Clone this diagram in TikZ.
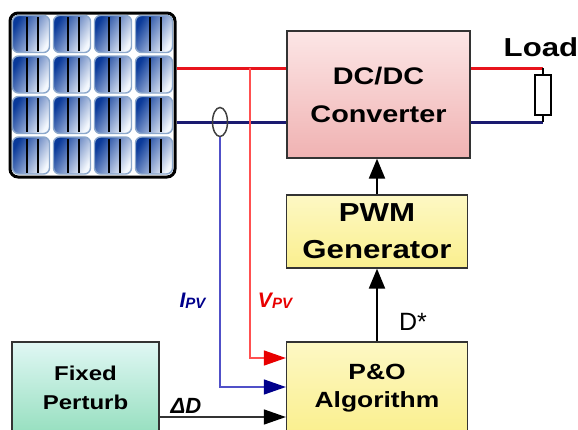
\documentclass[tikz,border=0pt]{standalone}
\usepackage{fontspec}
\setmainfont{Liberation Sans}
\newfontfamily\boxfont[FakeStretch=1.2]{Liberation Sans}
\usetikzlibrary{arrows.meta,shapes.geometric}
\definecolor{wirered}{HTML}{E8141C}
\definecolor{wirenavy}{HTML}{1A1A70}
\definecolor{tapred}{HTML}{FF5050}
\definecolor{tapblue}{HTML}{5050C8}
\definecolor{headred}{HTML}{E80000}
\definecolor{headnavy}{HTML}{00008B}
\definecolor{boxline}{HTML}{333333}
\definecolor{celldark}{HTML}{0A3A9A}
\definecolor{cellmid}{HTML}{9AB6E6}
\definecolor{celllight}{HTML}{F4F8FD}
\definecolor{cellrim}{HTML}{8CA8CC}
\definecolor{pinkdark}{HTML}{F0B2B2}
\definecolor{pinklight}{HTML}{FCE6E6}
\definecolor{yellowdark}{HTML}{FAEF8E}
\definecolor{yellowlight}{HTML}{FDF8C4}
\definecolor{mintdark}{HTML}{96DFBF}
\definecolor{mintlight}{HTML}{E0F7F4}
\begin{document}
\begin{tikzpicture}[x=1pt,y=-1pt,
  block/.style={draw=boxline,line width=1.3pt,align=center,inner sep=0pt,shading angle=315},
  wire/.style={line width=3pt},
  tap/.style={line width=1.4pt},
  intip/.style={-{Triangle[length=22pt,width=15pt,color=#1]}},
  uptip/.style={line width=2.2pt,-{Triangle[length=20pt,width=16pt]}},
  sublabel/.style={font=\bfseries\itshape\fontsize{21}{21}\selectfont}]
\useasboundingbox (0,0) rectangle (578,429);
\clip (0,0) rectangle (578,429);

% PV panel
\node[draw,line width=3pt,rounded corners=8pt,fill=white,
  minimum width=165pt,minimum height=164pt] (panel) at (92.5,95) {};
\foreach \i in {0,...,3}
 \foreach \j in {0,...,3} {
  \draw[cellrim,line width=1.4pt,rounded corners=6pt,top color=celldark,middle color=cellmid,bottom color=celllight,shading angle=60]
   (12.5+41*\i,15.5+40.5*\j) rectangle +(37,37);
  \draw[line width=1.5pt] (27+41*\i,17+40.5*\j) -- +(0,34);
  \draw[line width=1.5pt] (38+41*\i,17+40.5*\j) -- +(0,34);
 }

% blocks
\node[block,top color=pinklight,bottom color=pinkdark,minimum width=183pt,minimum height=127pt,
  font=\boxfont\bfseries\fontsize{24}{38}\selectfont] (conv) at (378.5,94.5) {DC/DC\\Converter};
\node[block,top color=yellowlight,bottom color=yellowdark,minimum width=181pt,minimum height=73pt,
  font=\boxfont\bfseries\fontsize{26}{37}\selectfont] (pwm) at (377,231.5) {PWM\\Generator};
\node[block,top color=yellowlight,bottom color=yellowdark,minimum width=181pt,minimum height=92pt,
  font=\boxfont\bfseries\fontsize{22}{28}\selectfont] (pando) at (377,388) {P\&O\\Algorithm};
\node[block,top color=mintlight,bottom color=mintdark,minimum width=147pt,minimum height=92pt,
  font=\boxfont\bfseries\fontsize{20}{29}\selectfont] (fixed) at (85.5,388) {Fixed\\Perturb};
\node[draw,line width=1.2pt,fill=white,minimum width=16pt,minimum height=40pt,inner sep=0pt] (load) at (543,95) {};

\coordinate (pos) at (0,68);
\coordinate (neg) at (0,122);
\coordinate (vtap) at (250,68);
\coordinate (vin) at (0,358);
\coordinate (iin) at (0,387);
\coordinate (din) at (0,417);

% power wires
\draw[wire,wirered] (panel.east |- pos) -- (conv.west |- pos);
\draw[wire,wirenavy] (panel.east |- neg) -- (conv.west |- neg);
\draw[wire,wirered] (conv.east |- pos) -- (load.north |- pos);
\draw[wire,wirenavy] (conv.east |- neg) -- (load.south |- neg);
\draw[line width=1.2pt] (load.north |- pos) -- (load.north);
\draw[line width=1.2pt] (load.south |- neg) -- (load.south);
\node[ellipse,draw=black!75,line width=1.5pt,minimum width=15pt,minimum height=29pt,inner sep=0pt] (sensor) at (220,122) {};

% measurements
\draw[tap,tapred,intip=headred] (vtap) |- (pando.west |- vin);
\draw[tap,tapblue,intip=headnavy] (sensor.south) |- (pando.west |- iin);
\draw[tap,black!80,intip=black] (fixed.east |- din) -- (pando.west |- din);
\draw[uptip] (pando.north) -- (pwm.south);
\draw[uptip] (pwm.north) -- (pwm.north |- conv.south);

% labels
\node[font=\boxfont\bfseries\fontsize{26}{26}\selectfont] (loadlabel) at (541,47) {Load};
\node[sublabel,text=headnavy] (ipv) at (192.5,301)
  {I\raisebox{-1pt}{\fontsize{15}{15}\selectfont PV}};
\node[sublabel,text=headred] (vpv) at (275,301)
  {V\raisebox{-1pt}{\fontsize{15}{15}\selectfont PV}};
\node[font=\fontsize{25}{25}\selectfont] (dstar) at (413,322) {D*};
\node[font=\bfseries\itshape\fontsize{22}{22}\selectfont] (dlabel) at (186,406) {ΔD};
\end{tikzpicture}
\end{document}
